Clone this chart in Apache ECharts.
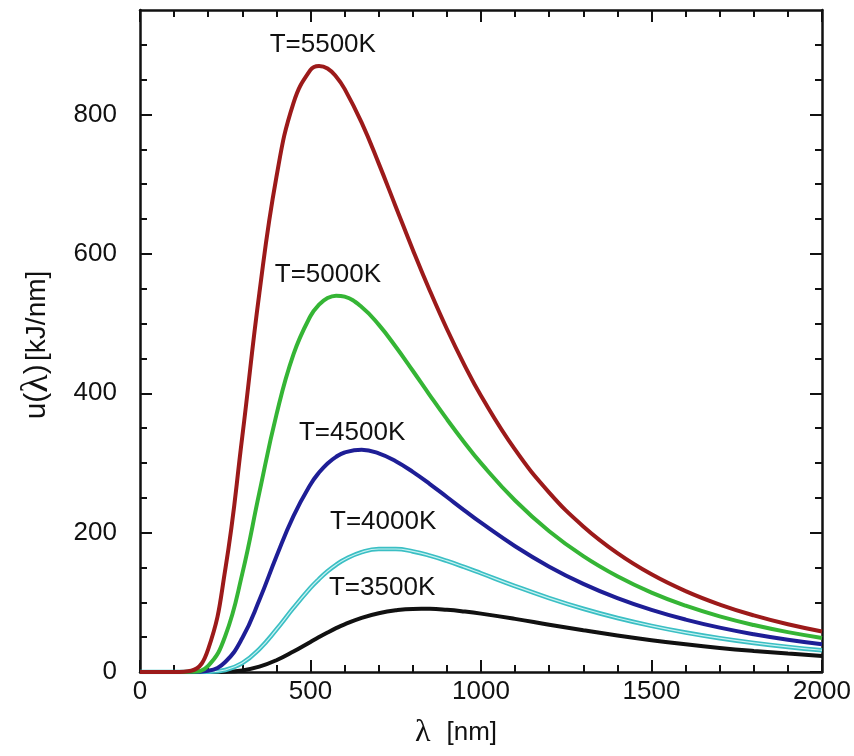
<!DOCTYPE html>
<html>
<head>
<meta charset="utf-8">
<script src="https://cdn.jsdelivr.net/npm/echarts@6/dist/echarts.min.js"></script>
<style>
html,body{margin:0;padding:0;background:#fff;}
#c{width:854px;height:756px;}
</style>
</head>
<body>
<div id="c"></div>
<script>
// wavelength samples (nm)
const lambda = [0,100,150,200,250,300,350,400,450,500,525,550,575,600,650,700,750,800,850,900,950,1000,1100,1200,1300,1400,1500,1600,1700,1800,1900,2000];
// spectral energy density u(lambda) [kJ/nm]
const u5500 = [0,0,1.8,32.8,146.9,337.9,543.5,710.1,816.4,864.1,869.8,866.1,854.6,836.8,788.3,729.9,667.8,606.1,547.2,492.2,441.9,396.4,319.0,257.5,208.9,170.6,140.2,116.1,96.8,81.2,68.5,58.2];
const u5000 = [0,0,0.3,8.9,51.6,141.2,257.3,369.0,455.8,510.9,527.1,536.6,540.1,538.6,523.9,498.5,466.8,432.3,397.1,362.8,330.2,299.7,246.1,202.0,166.2,137.3,113.9,95.1,79.8,67.4,57.2,48.9];
const u4500 = [0,0,0,1.8,14.4,48.7,103.2,165.8,223.8,269.2,286.2,299.3,308.8,315.0,318.9,313.8,302.5,287.2,269.7,251.1,232.4,214.2,180.5,151.2,126.5,106.0,89.1,75.2,63.7,54.2,46.3,39.8];
const u4000 = [0,0,0,0.2,2.9,12.8,32.9,61.0,92.0,120.9,133.4,144.5,153.8,161.5,171.9,176.5,176.5,173.0,167.0,159.4,150.8,141.7,123.3,106.1,90.8,77.5,66.2,56.6,48.5,41.7,36.0,31.2];
const u3500 = [0,0,0,0,0.4,2.3,7.6,16.9,29.4,43.2,50.1,56.7,62.9,68.4,77.8,84.4,88.6,90.5,90.6,89.3,86.9,83.8,76.2,67.9,59.9,52.4,45.7,39.8,34.6,30.2,26.4,23.1];

const seriesNames = ['T=5500K','T=5000K','T=4500K','T=4000K','T=3500K'];
// label anchor positions in data space [lambda, u]
const labelPos = [[536,900],[551,570],[622,343],[713,215],[710,121]];

const yMajor = [0,200,400,600,800];
const yMinor = [50,100,150,250,300,350,450,500,550,650,700,750,850,900];

const pairs = arr => lambda.map((l,i)=>[l,arr[i]]);

const sans = 'Liberation Sans, Arial, Helvetica, sans-serif';
const tl = () => ({color:'#111', width:2});
const al = (show) => ({show:show, onZero:false, lineStyle:{color:'#111', width:2.5}});

function mkSeries(name, arr, color, width, idx, z){
  const s = {
    type:'line', name:name, data:pairs(arr), showSymbol:false, symbol:'none',
    smooth:0.45, z:z||2, xAxisIndex:0, yAxisIndex:0,
    lineStyle:{color:color, width:width}
  };
  if(idx!=null){
    s.markPoint = {
      symbol:'circle', symbolSize:1, itemStyle:{color:'rgba(0,0,0,0)'},
      label:{show:true, position:'inside', formatter:p=>p.name, color:'#111', fontSize:26, fontFamily:sans},
      data:[{name:name, coord:labelPos[idx]}]
    };
  }
  return s;
}

function xAx(pos, labels){
  return {type:'value', position:pos, min:0, max:2000, interval:500,
    axisLine:al(true), splitLine:{show:false},
    axisTick:{show:true, inside:true, length:12, lineStyle:tl()},
    minorTick:{show:true, splitNumber:5, length:7, lineStyle:tl()},
    axisLabel: labels ? {show:true, fontSize:26, color:'#111', margin:7, fontFamily:sans, formatter:v=>String(v)} : {show:false}
  };
}
function yAx(pos, ticks, len, line, labels){
  return {type:'value', position:pos, min:0, max:950,
    axisLine:al(line), splitLine:{show:false},
    axisTick:{show:true, inside:true, length:len, lineStyle:tl(), customValues:ticks},
    axisLabel: labels ? {show:true, fontSize:26, color:'#111', margin:23, fontFamily:sans, customValues:ticks, formatter:v=>String(v)} : {show:false}
  };
}

const chart = echarts.init(document.getElementById('c'), null, {renderer:'canvas'});
chart.setOption({
  animation:false,
  backgroundColor:'#ffffff',
  grid:{left:140, right:32, top:10, bottom:84, containLabel:false, outerBoundsMode:'none'},
  xAxis:[ xAx('bottom', true), xAx('top', false) ],
  yAxis:[
    yAx('left', yMajor, 12, true, true),
    yAx('right', yMajor, 12, true, false),
    yAx('left', yMinor, 7, false, false),
    yAx('right', yMinor, 7, false, false)
  ],
  graphic:[
    {
      type:'text', x:37, y:345, rotation:Math.PI/2,
      style:{
        text:'{a|u(}{l|λ}{a|)} {b|[kJ/nm]}',
        align:'center', verticalAlign:'middle',
        rich:{
          a:{fontSize:30, fontFamily:sans, fill:'#111'},
          l:{fontSize:38, fontFamily:'Liberation Serif, serif', fill:'#111'},
          b:{fontSize:28, fontFamily:sans, fill:'#111'}
        }
      }
    },
    {
      type:'text', x:456, y:733,
      style:{
        text:'{l|λ}{b|[nm]}',
        align:'center', verticalAlign:'middle',
        rich:{
          l:{fontSize:32, fontFamily:'Liberation Serif, serif', fill:'#111', padding:[0,16,0,0]},
          b:{fontSize:26, fontFamily:sans, fill:'#111'}
        }
      }
    }
  ],
  series:[
    mkSeries(seriesNames[4], u3500, '#111111', 4, 4, 2),
    mkSeries(seriesNames[3], u4000, '#3bbfc4', 4.5, 3, 3),
    mkSeries('T=4000K inner', u4000, '#c8f2f2', 1.2, null, 4),
    mkSeries(seriesNames[2], u4500, '#1e1e96', 4, 2, 5),
    mkSeries(seriesNames[1], u5000, '#35b535', 4, 1, 6),
    mkSeries(seriesNames[0], u5500, '#9c1a1a', 4, 0, 7)
  ]
});
</script>
</body>
</html>
